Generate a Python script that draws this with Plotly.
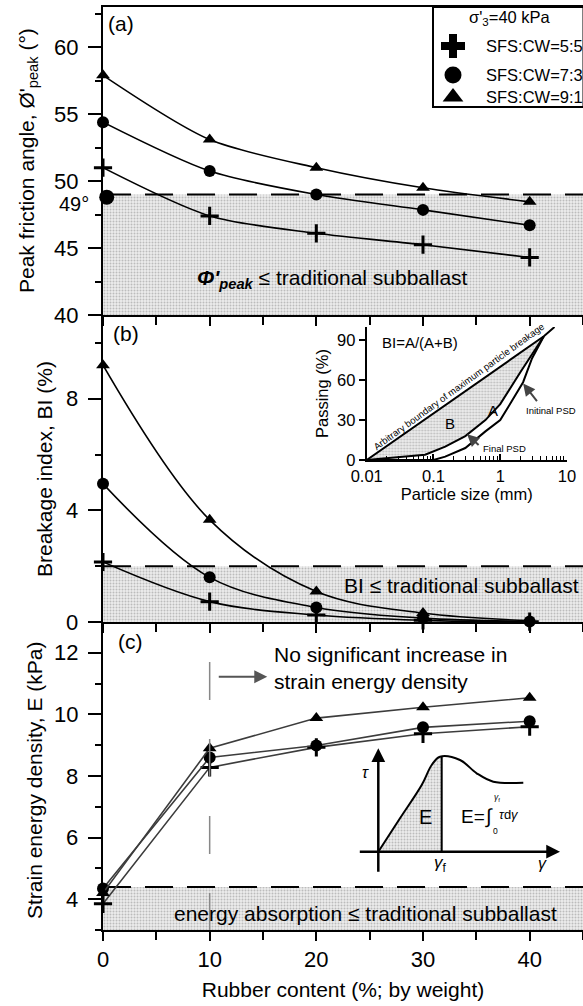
import plotly.graph_objects as go

# ---------------- data ----------------
rubber = [0, 10, 20, 30, 40]
mix_labels = ["SFS:CW=5:5", "SFS:CW=7:3", "SFS:CW=9:1"]

phi_55 = [51.0, 47.4, 46.1, 45.25, 44.3]
phi_73 = [54.4, 50.75, 49.0, 47.85, 46.7]
phi_91 = [57.9, 53.1, 51.0, 49.5, 48.45]

bi_55 = [2.15, 0.73, 0.25, 0.06, 0.01]
bi_73 = [4.95, 1.6, 0.52, 0.14, 0.02]
bi_91 = [9.2, 3.66, 1.09, 0.32, 0.05]

energy_55 = [3.85, 8.28, 8.93, 9.37, 9.6]
energy_73 = [4.35, 8.6, 8.99, 9.58, 9.78]
energy_91 = [4.2, 8.9, 9.88, 10.23, 10.54]

trad_rubber = [0.35]
trad_phi = [48.8]
phi_threshold = 49.0
bi_threshold = 2.0
energy_threshold = 4.4

# tick values
phi_ticks = [40, 45, 50, 55, 60]
bi_ticks = [0, 4, 8]
energy_ticks = [4, 6, 8, 10, 12]
rubber_ticks = [0, 10, 20, 30, 40]

# inset (b): particle size distributions
boundary_size = [0.01, 4.5, 6.5]
boundary_pass = [0, 93, 100]
final_size = [0.01, 0.075, 0.15, 0.3, 0.6, 1.0, 2.0, 4.5]
final_pass = [0, 4, 10, 18, 30, 42, 66, 93]
initial_size = [0.01, 0.1, 0.15, 0.3, 0.6, 1.0, 1.5, 2.2, 3.0, 4.5]
initial_pass = [0, 0, 2.5, 9, 21.5, 30, 44.5, 58.5, 76.5, 93]

# inset (c): schematic stress-strain curve (schematic units)
curve_u = [23.3, 45, 66.7, 76.7, 85, 105, 121.7, 138.3, 168.3]
curve_v = [28.3, 61.7, 95, 115, 123.3, 120, 106.7, 98.3, 97.3]

# ---------------- layout helpers ----------------
W, H = 583, 1006
ML, MR, MT, MB = 103, 0, 7, 76
PW = W - ML - MR
PH = H - MT - MB


def px(xp):
    return (xp - ML) / PW


def py(yp):
    return (H - MB - yp) / PH


FONT = "Liberation Sans, Arial, sans-serif"
XMAX = 45
PATTERN = dict(shape=".", bgcolor="#ececec", fgcolor="#8c8c8c", size=3, solidity=0.35)
DASH = "28px,14px"

fig = go.Figure()


def shade(x0, x1, y0, y1, xa, ya):
    fig.add_trace(go.Scatter(x=[x0, x1, x1, x0, x0], y=[y0, y0, y1, y1, y0], mode="lines",
                             fill="toself", fillpattern=PATTERN, line=dict(width=0),
                             xaxis=xa, yaxis=ya, hoverinfo="skip", showlegend=False))


def hline(y, xa, ya):
    fig.add_trace(go.Scatter(x=[0, XMAX], y=[y, y], mode="lines",
                             line=dict(color="black", width=2, dash=DASH),
                             xaxis=xa, yaxis=ya, hoverinfo="skip", showlegend=False))


markers = [
    dict(symbol="cross-thin", size=13, color="black", line=dict(width=3, color="black")),
    dict(symbol="circle", size=12, color="black", line=dict(width=0)),
    dict(symbol="triangle-up", size=12, color="black", line=dict(width=0)),
]

# ---- panel (a)
shade(0, XMAX, 40, phi_threshold, "x3", "y3")
hline(phi_threshold, "x3", "y3")
for ys, mk, name in zip([phi_55, phi_73, phi_91], markers, mix_labels):
    fig.add_trace(go.Scatter(x=rubber, y=ys, mode="lines+markers", name=name,
                             line=dict(color="black", width=1.6, shape="spline", smoothing=0.8),
                             marker=mk, cliponaxis=False, xaxis="x3", yaxis="y3", showlegend=False))
fig.add_trace(go.Scatter(x=trad_rubber, y=trad_phi, mode="markers",
                         marker=dict(symbol="circle", size=15, color="black"),
                         cliponaxis=False, xaxis="x3", yaxis="y3", showlegend=False))

# ---- panel (b)
shade(0, XMAX, 0, bi_threshold, "x2", "y2")
hline(bi_threshold, "x2", "y2")
for ys, mk, name in zip([bi_55, bi_73, bi_91], markers, mix_labels):
    fig.add_trace(go.Scatter(x=rubber, y=ys, mode="lines+markers", name=name,
                             line=dict(color="black", width=1.6, shape="spline", smoothing=1.0),
                             marker=mk, cliponaxis=False, xaxis="x2", yaxis="y2", showlegend=False))

# ---- panel (c)
shade(0, XMAX, 3, energy_threshold, "x", "y")
hline(energy_threshold, "x", "y")
for ys, mk, name in zip([energy_55, energy_73, energy_91], markers, mix_labels):
    fig.add_trace(go.Scatter(x=rubber, y=ys, mode="lines+markers", name=name,
                             line=dict(color="#3c3c3c", width=1.6),
                             marker=mk, cliponaxis=False, xaxis="x", yaxis="y", showlegend=False))

# ---- inset (b)
fig.add_trace(go.Scatter(x=boundary_size[:2] + final_size[::-1], y=boundary_pass[:2] + final_pass[::-1],
                         mode="lines", fill="toself", fillpattern=PATTERN, line=dict(width=0),
                         xaxis="x5", yaxis="y5", hoverinfo="skip", showlegend=False))
for xs, ys in [(boundary_size, boundary_pass), (final_size, final_pass), (initial_size, initial_pass)]:
    fig.add_trace(go.Scatter(x=xs, y=ys, mode="lines", line=dict(color="black", width=2),
                             cliponaxis=False, xaxis="x5", yaxis="y5", hoverinfo="skip", showlegend=False))

# ---- inset (c)
fill_u = curve_u[:5] + [86.7, 86.7, curve_u[0]]
fill_v = curve_v[:5] + [123.3, 28.3, curve_v[0]]
fig.add_trace(go.Scatter(x=fill_u, y=fill_v, mode="lines", fill="toself", fillpattern=PATTERN,
                         line=dict(width=0), xaxis="x6", yaxis="y6", hoverinfo="skip", showlegend=False))
fig.add_trace(go.Scatter(x=curve_u, y=curve_v, mode="lines", line=dict(color="black", width=2, shape="spline"),
                         xaxis="x6", yaxis="y6", hoverinfo="skip", showlegend=False, cliponaxis=False))
fig.add_trace(go.Scatter(x=[86.7, 86.7], y=[28.3, 123.3], mode="lines", line=dict(color="black", width=2),
                         xaxis="x6", yaxis="y6", hoverinfo="skip", showlegend=False))

# ---- legend markers (overlay axis in pixel units)
leg_y = [46, 75, 97]
leg_markers = [
    dict(symbol="cross", size=20, color="black"),
    dict(symbol="circle", size=17, color="black"),
    dict(symbol="triangle-up", size=18, color="black"),
]
for yy, mk in zip(leg_y, leg_markers):
    fig.add_trace(go.Scatter(x=[453], y=[yy], mode="markers", marker=mk, xaxis="x4", yaxis="y4",
                             hoverinfo="skip", showlegend=False, cliponaxis=False))

# ---------------- axes ----------------
TICKFONT = dict(size=22, family=FONT, color="black")
TITLEFONT = dict(size=21, family=FONT, color="black")
axis_common = dict(showline=True, linecolor="black", linewidth=2, showgrid=False, zeroline=False,
                   tickcolor="black", tickfont=TICKFONT)
minor_x = dict(ticks="outside", dtick=5, tick0=0, ticklen=8, tickwidth=2, tickcolor="black")

dom_a = [py(315), 1]
dom_b = [py(622), py(315)]
dom_c = [0, py(622)]

fig.update_layout(
    xaxis=dict(**axis_common, domain=[0, 1], anchor="y", range=[0, XMAX], tickvals=rubber_ticks,
               ticks="outside", ticklen=9, tickwidth=2, minor=minor_x,
               title=dict(text="Rubber content (%; by weight)", font=TITLEFONT, standoff=11)),
    yaxis=dict(**axis_common, domain=dom_c, anchor="x", range=[3, 13], tickvals=energy_ticks,
               showticklabels=False, ticks="outside", ticklen=13, tickwidth=2,
               minor=dict(ticks="outside", tickvals=[3, 5, 7, 9, 11, 13], ticklen=6, tickwidth=2, tickcolor="black")),
    xaxis2=dict(**axis_common, domain=[0, 1], anchor="y2", range=[0, XMAX], matches="x",
                tickvals=rubber_ticks, ticks="outside", ticklen=9, tickwidth=2,
                minor=minor_x, showticklabels=False),
    yaxis2=dict(**axis_common, domain=dom_b, anchor="x2", range=[0, 11], tickvals=bi_ticks,
                showticklabels=False, ticks="outside", ticklen=13, tickwidth=2,
                minor=dict(ticks="outside", tickvals=[2, 6, 10], ticklen=6, tickwidth=2, tickcolor="black")),
    xaxis3=dict(**axis_common, domain=[0, 1], anchor="y3", range=[0, XMAX], matches="x", mirror=True,
                tickvals=rubber_ticks, ticks="outside", ticklen=9, tickwidth=2,
                minor=minor_x, showticklabels=False),
    yaxis3=dict(**axis_common, domain=dom_a, anchor="x3", range=[40, 63], tickvals=phi_ticks,
                showticklabels=False, ticks="outside", ticklen=13, tickwidth=2,
                minor=dict(ticks="outside", tickvals=[42.5, 47.5, 52.5, 57.5, 62.5], ticklen=6, tickwidth=2,
                           tickcolor="black")),
    xaxis4=dict(domain=[0, 1], anchor="y4", range=[ML, W - MR], visible=False, fixedrange=True),
    yaxis4=dict(domain=[0, 1], anchor="x4", range=[H - MB, MT], visible=False, fixedrange=True),
    xaxis5=dict(type="log", domain=[px(366.7), px(567)], anchor="y5", range=[-2, 1],
                showline=True, linecolor="black", linewidth=2, showgrid=False, zeroline=False,
                tickvals=[0.01, 0.1, 1, 10], ticktext=["0.01", "0.1", "1", "10"], ticks="inside",
                ticklen=6, tickwidth=1.5, tickcolor="black",
                minor=dict(ticks="inside", ticklen=4, tickwidth=1.2, tickcolor="black",
                           tickvals=[m * d for d in (0.01, 0.1, 1) for m in range(2, 10)]),
                tickfont=dict(size=16.5, family=FONT, color="black"),
                title=dict(text="Particle size (mm)", font=dict(size=16.5, family=FONT), standoff=2)),
    yaxis5=dict(domain=[py(460), py(327)], anchor="x5", range=[0, 100],
                showline=True, linecolor="black", linewidth=2, showgrid=False, zeroline=False,
                tickvals=[0, 30, 60, 90], ticks="outside", ticklen=6, tickwidth=1.5, tickcolor="black",
                tickfont=dict(size=16.5, family=FONT, color="black"),
                title=dict(text="Passing (%)", font=dict(size=16.5, family=FONT), standoff=4)),
    xaxis6=dict(domain=[px(355), px(565)], anchor="y6", range=[0, 210], visible=False, fixedrange=True),
    yaxis6=dict(domain=[py(880), py(745)], anchor="x6", range=[0, 135], visible=False, fixedrange=True),
)

# ---------------- annotations & shapes ----------------
ann = []


def A(**kw):
    d = dict(showarrow=False, font=dict(size=21, family=FONT, color="black"))
    d.update(kw)
    ann.append(d)


# y tick labels (placed on each panel's own y scale, set back from the long ticks)
for ticks, ya in [(phi_ticks, "y3"), (bi_ticks, "y2"), (energy_ticks, "y")]:
    for v in ticks:
        A(text=str(v), xref="paper", yref=ya, x=px(80), y=v, xanchor="right", yanchor="middle",
          font=TICKFONT)

# y-axis titles (rotated)
A(text="Peak friction angle, Ø'<sub>peak</sub> (°)", xref="paper", yref="paper", x=px(28), y=py(161),
  textangle=-90, xanchor="center", yanchor="middle", font=TITLEFONT)
A(text="Breakage index, BI (%)", xref="paper", yref="paper", x=px(45), y=py(469),
  textangle=-90, xanchor="center", yanchor="middle", font=TITLEFONT)
A(text="Strain energy density, E (kPa)", xref="paper", yref="paper", x=px(34), y=py(781),
  textangle=-90, xanchor="center", yanchor="middle", font=TITLEFONT)

A(text="(a)", xref="paper", yref="paper", x=px(106), y=py(23), xanchor="left", yanchor="middle")
A(text="(b)", xref="paper", yref="paper", x=px(111), y=py(333), xanchor="left", yanchor="middle")
A(text="(c)", xref="paper", yref="paper", x=px(116), y=py(641), xanchor="left", yanchor="middle")
A(text="49°", xref="paper", yref="y3", x=px(91), y=48.3, xanchor="right", yanchor="middle",
  font=dict(size=20, family=FONT, color="black"))
A(text="<b><i>Φ'</i></b><sub><b><i>peak</i></b></sub> ≤ traditional subballast", xref="x3", yref="y3",
  x=21.5, y=42.7, xanchor="center", yanchor="middle")
A(text="BI ≤ traditional subballast", xref="x2", yref="y2", x=33.6, y=1.3, xanchor="center", yanchor="middle")
A(text="energy absorption ≤ traditional subballast", xref="x", yref="y", x=24.6, y=3.55,
  xanchor="center", yanchor="middle")
A(text="No significant increase in<br>strain energy density", xref="x", yref="y", x=15.8, y=11.5,
  xanchor="left", yanchor="middle", align="left")
# arrow in panel (c)
ann.append(dict(x=15.4, y=11.22, xref="x", yref="y", ax=-50, ay=0, showarrow=True, text="",
                arrowhead=2, arrowsize=1.3, arrowwidth=2, arrowcolor="#555555"))

# legend texts
A(text="σ'<sub>3</sub>=40 kPa", xref="paper", yref="paper", x=px(510), y=py(18), xanchor="center",
  yanchor="middle", font=dict(size=16.5, family=FONT, color="black"))
for yy, name in zip(leg_y, mix_labels):
    A(text=name, xref="paper", yref="paper", x=px(484), y=py(yy), xanchor="left", yanchor="middle",
      font=dict(size=16.5, family=FONT, color="black"))

# inset (b) texts
A(text="BI=A/(A+B)", xref="x5", yref="y5", x=-1.2, y=88, xanchor="center", yanchor="middle",
  font=dict(size=15, family=FONT, color="black"))
A(text="B", xref="x5", yref="y5", x=-0.75, y=27.7, font=dict(size=15, family=FONT, color="black"))
A(text="A", xref="x5", yref="y5", x=-0.11, y=37, font=dict(size=15, family=FONT, color="black"))
A(text="Arbitrary boundary of maximum particle breakage", xref="x5", yref="y5", x=-0.62, y=55,
  textangle=-36, font=dict(size=9.5, family=FONT, color="black"))
A(text="Initinal PSD", xref="x5", yref="y5", x=0.35, y=37.5, xanchor="left",
  font=dict(size=9.5, family=FONT, color="black"))
A(text="Final PSD", xref="x5", yref="y5", x=0.06, y=8.6, xanchor="center",
  font=dict(size=9.5, family=FONT, color="black"))
ann.append(dict(x=0.343, y=57.5, xref="x5", yref="y5", ax=15, ay=19, showarrow=True, text="",
                arrowhead=2, arrowsize=1.2, arrowwidth=2, arrowcolor="#444444"))
ann.append(dict(x=-0.496, y=19.3, xref="x5", yref="y5", ax=13, ay=12, showarrow=True, text="",
                arrowhead=2, arrowsize=1.2, arrowwidth=2, arrowcolor="#444444"))

# inset (c) texts and arrows
ann.append(dict(x=23.3, y=131.7, ax=23.3, ay=6.7, xref="x6", yref="y6", axref="x6", ayref="y6",
                showarrow=True, text="", arrowhead=2, arrowsize=1.1, arrowwidth=2.5, arrowcolor="black"))
ann.append(dict(x=205, y=28.3, ax=3.3, ay=28.3, xref="x6", yref="y6", axref="x6", ayref="y6",
                showarrow=True, text="", arrowhead=2, arrowsize=1.1, arrowwidth=2.5, arrowcolor="black"))
A(text="E", xref="x6", yref="y6", x=70, y=63.3, font=dict(size=20, family=FONT, color="black"))
A(text="E=", xref="x6", yref="y6", x=104, y=64, xanchor="left", font=dict(size=19, family=FONT, color="black"))
A(text="∫", xref="x6", yref="y6", x=128, y=64, xanchor="left", font=dict(size=20, family=FONT, color="black"))
A(text="<i>γ</i><sub>f</sub>", xref="x6", yref="y6", x=137, y=83, xanchor="left",
  font=dict(size=8.5, family=FONT, color="black"))
A(text="0", xref="x6", yref="y6", x=136, y=49, xanchor="left", font=dict(size=8.5, family=FONT, color="black"))
A(text="<i>τ</i>d<i>γ</i>", xref="x6", yref="y6", x=142, y=66, xanchor="left",
  font=dict(size=13, family=FONT, color="black"))
A(text="<i>γ</i><sub>f</sub>", xref="x6", yref="y6", x=85, y=16, font=dict(size=17, family=FONT, color="black"))
A(text="<i>γ</i>", xref="x6", yref="y6", x=187, y=17, font=dict(size=16, family=FONT, color="black"))
A(text="<i>τ</i>", xref="x6", yref="y6", x=10, y=108, font=dict(size=16, family=FONT, color="black"))

shapes = [
    # legend box
    dict(type="rect", xref="paper", yref="paper", x0=px(433), x1=px(583.5), y0=py(107), y1=py(7),
         line=dict(color="black", width=2), fillcolor="white", layer="below"),
    # vertical dashed marker at 10 % rubber in panel (c)
    dict(type="line", xref="x", yref="y", x0=10, x1=10, y0=11.7, y1=3,
         line=dict(color="#888888", width=1.5, dash="38px,39px")),
]

fig.update_layout(
    width=W, height=H, margin=dict(l=ML, r=MR, t=MT, b=MB, autoexpand=False),
    paper_bgcolor="white", plot_bgcolor="rgba(0,0,0,0)",
    font=dict(family=FONT, color="black"),
    annotations=ann, shapes=shapes, showlegend=False,
)

fig.write_html("out.html")
